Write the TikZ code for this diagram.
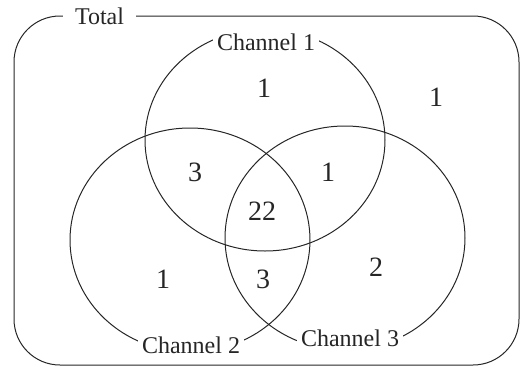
\documentclass[tikz,border=0pt]{standalone}
\usepackage{fontspec}
\setmainfont{Liberation Serif}
\begin{document}
\begin{tikzpicture}[x=1pt,y=1pt,
    setline/.style={line width=1pt, draw=black!85},
    tag/.style={fill=white, inner xsep=4pt, inner ysep=6pt,
                font=\fontsize{24}{24}\selectfont, text=black!85},
    count/.style={inner sep=0pt, font=\fontsize{28}{28}\selectfont, text=black!85}]
  \useasboundingbox (0,0) rectangle (522,368);

  % universe frame
  \draw[setline, rounded corners=46pt] (14,3) rectangle (519,352);

  % the three channel sets
  \draw[setline] (265,228) ellipse [x radius=120, y radius=111];
  \draw[setline] (190,128) ellipse [x radius=120, y radius=112];
  \draw[setline] (345,130) ellipse [x radius=120, y radius=112];

  % set labels
  \node[tag, inner xsep=12pt, inner ysep=2pt] (total) at (99.5,352) {Total};
  \node[tag] (ch1) at (266,326) {Channel 1};
  \node[tag] (ch2) at (191,23) {Channel 2};
  \node[tag] (ch3) at (350,30) {Channel 3};

  % region counts
  \node[count] (only1)  at (264,280) {1};
  \node[count] (none)   at (436,271) {1};
  \node[count] (c12)    at (195,196) {3};
  \node[count] (c13)    at (328,196) {1};
  \node[count] (c123)   at (262,157) {22};
  \node[count] (only2)  at (163,89)  {1};
  \node[count] (c23)    at (263,89)  {3};
  \node[count] (only3)  at (376,101) {2};
\end{tikzpicture}
\end{document}
